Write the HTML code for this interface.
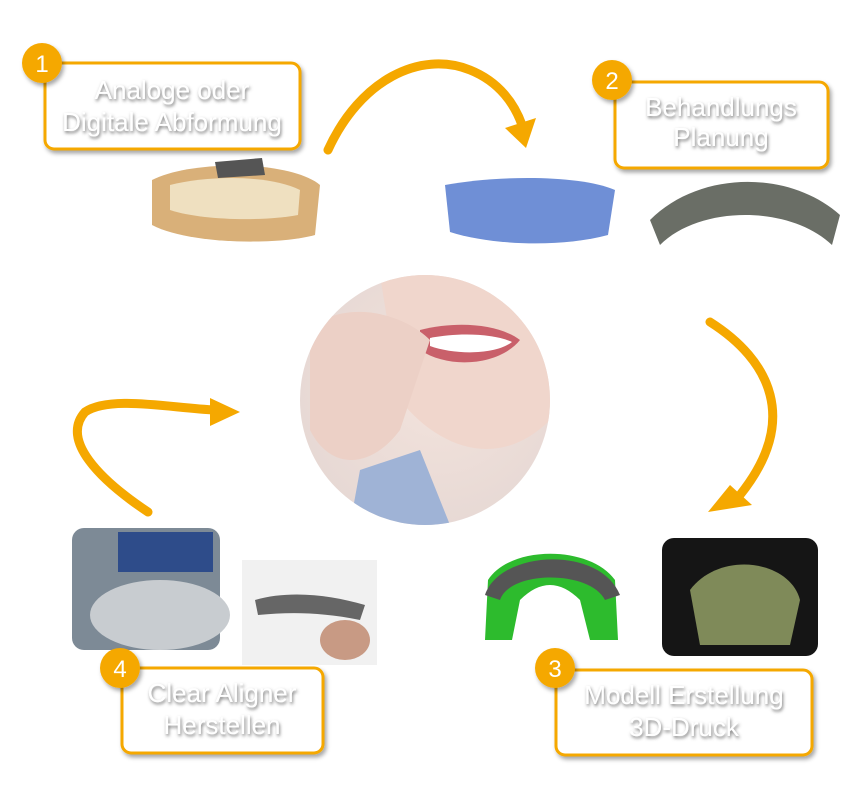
<!DOCTYPE html>
<html><head><meta charset="utf-8"><style>
html,body{margin:0;padding:0;background:#fff;}
svg{display:block;}
.lbl{font-family:"Liberation Sans",sans-serif;font-size:26px;fill:#fff;text-anchor:middle;filter:url(#ts);}
.num{font-family:"Liberation Sans",sans-serif;font-size:24px;fill:#fff;text-anchor:middle;}
</style></head><body>
<svg width="856" height="793" viewBox="0 0 856 793" xmlns="http://www.w3.org/2000/svg">
<defs>
<filter id="ts" x="-20%" y="-40%" width="140%" height="180%"><feDropShadow dx="1" dy="2" stdDeviation="1.5" flood-color="#555" flood-opacity="0.8"/></filter>
<filter id="bs" x="-10%" y="-10%" width="130%" height="130%"><feDropShadow dx="2" dy="3" stdDeviation="2" flood-color="#000" flood-opacity="0.35"/></filter>
<radialGradient id="face" cx="0.55" cy="0.45" r="0.6"><stop offset="0" stop-color="#f3e3dc"/><stop offset="1" stop-color="#e6d8d4"/></radialGradient>
<clipPath id="cc"><circle cx="425" cy="400" r="125"/></clipPath>
</defs>
<g fill="none" stroke="#F5A800" stroke-width="9" stroke-linecap="round">
<path d="M328 150 C360 80 420 50 470 70 C500 82 515 105 522 125"/>
<path d="M710 322 C770 360 800 420 740 495"/>
<path d="M148 512 C100 480 60 440 85 412 C110 395 170 408 215 410"/>
</g>
<g fill="#F5A800">
<polygon points="505,128 536,118 526,148"/>
<polygon points="730,485 752,505 708,512"/>
<polygon points="210,398 240,412 210,426"/>
</g>
<g clip-path="url(#cc)">
<rect x="300" y="275" width="250" height="250" fill="url(#face)"/>
<path d="M380 275 L550 275 L550 420 C500 470 440 450 400 400 Z" fill="#f0d6cc"/>
<path d="M420 330 C460 320 500 325 520 340 C500 365 450 370 420 350 Z" fill="#c9606a"/>
<path d="M430 338 C460 332 495 334 512 342 C495 355 455 355 430 346 Z" fill="#fff"/>
<path d="M310 330 C340 300 400 310 430 340 L400 430 C370 470 330 470 310 430 Z" fill="#ecd0c6"/>
<path d="M360 470 L420 450 L450 525 L350 525 Z" fill="#9fb3d6"/>
</g>
<path d="M152 180 C190 160 290 160 320 185 L315 235 C280 245 190 245 152 225 Z" fill="#d9b079"/>
<path d="M170 185 C210 175 270 175 300 190 L298 215 C260 222 200 220 170 210 Z" fill="#efe0c0"/>
<path d="M215 162 L262 158 L265 175 L218 178 Z" fill="#555"/>
<path d="M445 185 C500 175 580 175 615 190 L608 235 C560 248 490 245 450 232 Z" fill="#6f8fd6"/>
<path d="M650 220 C700 170 790 170 840 215 L832 245 C790 205 700 205 660 245 Z" fill="#6a6e66"/>
<path d="M485 640 L488 580 C510 545 590 545 615 580 L618 640 L590 640 L580 600 C560 580 540 580 520 600 L512 640 Z" fill="#2dbb2d"/>
<path d="M485 595 C500 550 600 545 620 595 L605 600 C590 570 510 570 500 600 Z" fill="#555"/>
<rect x="662" y="538" width="156" height="118" rx="12" fill="#151515"/>
<path d="M690 590 C720 550 790 560 800 600 L790 645 L700 645 Z" fill="#9aa86a" opacity="0.8"/>
<rect x="72" y="528" width="148" height="122" rx="12" fill="#7d8a96"/>
<rect x="118" y="532" width="95" height="40" fill="#2e4c8a"/>
<ellipse cx="160" cy="615" rx="70" ry="35" fill="#c8ccd0"/>
<rect x="242" y="560" width="135" height="105" fill="#f1f1f1"/>
<path d="M255 600 C290 590 330 595 365 605 L360 620 C320 612 290 612 258 615 Z" fill="#666"/>
<ellipse cx="345" cy="640" rx="25" ry="20" fill="#c89a84"/>
<g fill="#fff" stroke="#F5A800" stroke-width="3" filter="url(#bs)">
<rect x="45" y="63" width="255" height="86" rx="9"/>
<rect x="615" y="82" width="213" height="86" rx="9"/>
<rect x="556" y="670" width="256" height="85" rx="9"/>
<rect x="122" y="668" width="201" height="85" rx="9"/>
</g>
<text class="lbl" x="172" y="99">Analoge oder</text>
<text class="lbl" x="172" y="131">Digitale Abformung</text>
<text class="lbl" x="721" y="116">Behandlungs</text>
<text class="lbl" x="721" y="146">Planung</text>
<text class="lbl" x="684" y="704">Modell Erstellung</text>
<text class="lbl" x="684" y="736">3D-Druck</text>
<text class="lbl" x="222" y="702">Clear Aligner</text>
<text class="lbl" x="222" y="734">Herstellen</text>
<g fill="#F5A800" filter="url(#bs)">
<circle cx="42" cy="63" r="20"/>
<circle cx="612" cy="80" r="20"/>
<circle cx="555" cy="668" r="20"/>
<circle cx="120" cy="668" r="20"/>
</g>
<text class="num" x="42" y="72">1</text>
<text class="num" x="612" y="89">2</text>
<text class="num" x="555" y="677">3</text>
<text class="num" x="120" y="677">4</text>
</svg>
</body></html>
